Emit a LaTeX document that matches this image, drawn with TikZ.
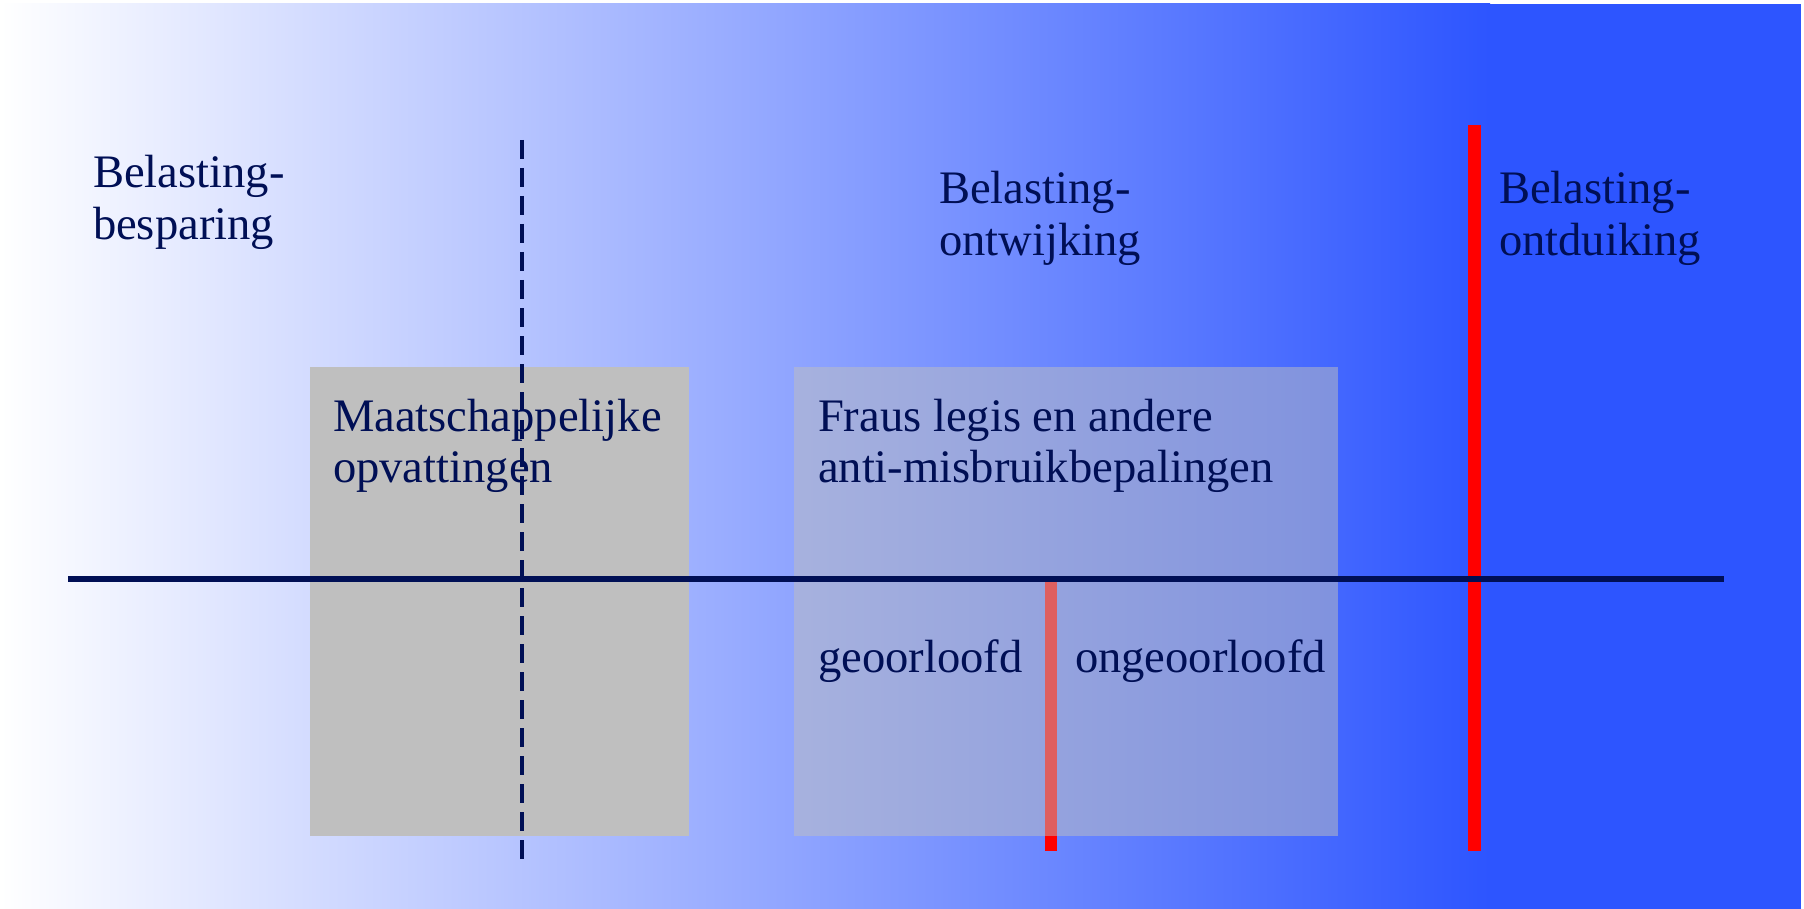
\documentclass[tikz,border=0pt]{standalone}
\usepackage{fontspec}
\setmainfont{Liberation Serif}
\definecolor{navy}{RGB}{0,15,85}
\definecolor{bgblue}{RGB}{45,85,255}
\definecolor{boxgray}{RGB}{191,191,191}
\definecolor{barred}{RGB}{255,0,0}
\newcommand{\twolines}[2]{\vtop{\baselineskip=25.75pt\hbox{#1}\hbox{#2}}}
\begin{document}
\begin{tikzpicture}[x=0.5pt,y=-0.5pt,
  lbl/.style={anchor=base west, inner sep=0pt, outer sep=0pt, text=navy,
    font=\fontsize{23.3pt}{25.75pt}\selectfont},
  solidblock/.style={anchor=north west, inner sep=0pt, outer sep=0pt, draw=none, fill=boxgray},
  glassblock/.style={anchor=north west, inner sep=0pt, outer sep=0pt, draw=none, fill=boxgray, fill opacity=0.5},
  redbar/.style={draw=barred, line width=6.25pt},
  axisline/.style={draw=navy, line width=3pt},
  dashline/.style={draw=navy, line width=1.75pt, dash pattern=on 9.5pt off 4.5pt}]
\useasboundingbox (0,0) rectangle (1804,909);
% background
\fill[white] (0,0) rectangle (1804,909);
\shade[left color=white, right color=bgblue] (0,4) rectangle (1490,909);
\fill[bgblue] (1489,4) rectangle (1801,909);
% coordinates
\coordinate (midtop) at (1051,579);
\coordinate (midbot) at (1051,851);
\coordinate (redtop) at (1474.5,125);
\coordinate (redbot) at (1474.5,851);
\coordinate (hleft) at (68,579);
\coordinate (hright) at (1724,579);
\coordinate (dtop) at (522,140);
\coordinate (dbot) at (522,865);
% middle red bar (under the translucent block)
\draw[redbar] (midtop) -- (midbot);
% blocks
\node[solidblock, minimum width=189.5pt, minimum height=234.5pt] (boxA) at (310,367) {};
\node[glassblock, minimum width=272pt, minimum height=234.5pt] (boxB) at (794,367) {};
% texts
\node[lbl] (besparing) at (93,188) {\twolines{Belasting-}{besparing}};
\node[lbl] (ontwijking) at (939,204) {\twolines{Belasting-}{ontwijking}};
\node[lbl] (ontduiking) at (1499,204) {\twolines{Belasting-}{ontduiking}};
\node[lbl] (maatsch) at (333,431) {\twolines{Maatschappelijke}{opvattingen}};
\node[lbl] (fraus) at (818,431) {\twolines{Fraus legis en andere}{anti-misbruikbepalingen}};
\node[lbl] (geoorl) at (818,672) {geoorloofd};
\node[lbl] (ongeoorl) at (1075,672) {ongeoorloofd};
% right red bar
\draw[redbar] (redtop) -- (redbot);
% horizontal axis
\draw[axisline] (hleft) -- (hright);
% dashed divider
\draw[dashline] (dtop) -- (dbot);
\end{tikzpicture}
\end{document}
